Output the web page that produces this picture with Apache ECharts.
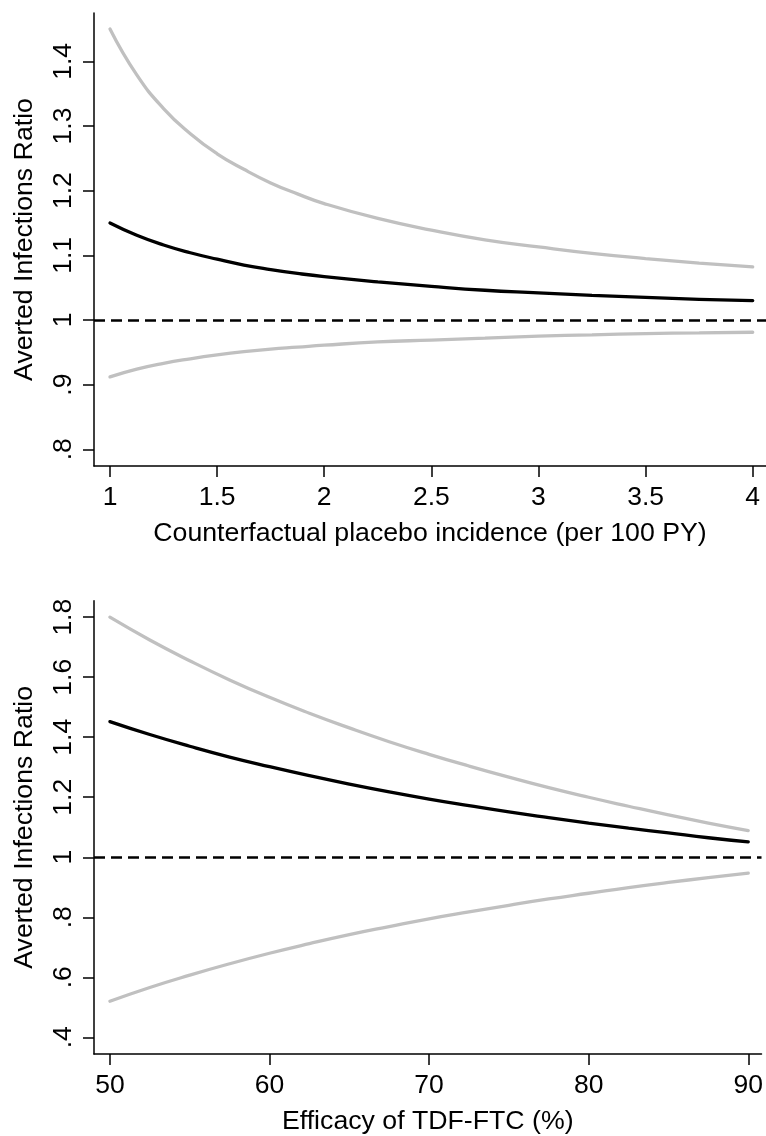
<!DOCTYPE html>
<html>
<head>
<meta charset="utf-8">
<script src="https://cdn.jsdelivr.net/npm/echarts@6/dist/echarts.min.js"></script>
<style>
  html, body { margin: 0; padding: 0; background: #fff; }
  #chart { width: 766px; height: 1136px; }
</style>
</head>
<body>
<div id="chart"></div>
<script>
// 上图：安慰剂发病率 (per 100 PY)
var incidence = [1, 1.125, 1.25, 1.375, 1.5, 1.625, 1.75, 1.875, 2, 2.25, 2.5, 2.75, 3, 3.25, 3.5, 3.75, 4];
var incPoint = [1.150, 1.131, 1.116, 1.104, 1.094, 1.085, 1.078, 1.072, 1.067, 1.059, 1.052, 1.046, 1.042, 1.038, 1.035, 1.032, 1.030];
var incUpper = [1.450, 1.379, 1.327, 1.288, 1.257, 1.233, 1.212, 1.195, 1.180, 1.157, 1.139, 1.124, 1.113, 1.103, 1.095, 1.088, 1.082];
var incLower = [0.912, 0.924, 0.933, 0.940, 0.946, 0.951, 0.955, 0.958, 0.961, 0.966, 0.969, 0.972, 0.975, 0.977, 0.979, 0.980, 0.981];
var incTicks = [1, 1.5, 2, 2.5, 3, 3.5, 4];
var incYTicks = [0.8, 0.9, 1, 1.1, 1.2, 1.3, 1.4];

// 下图：TDF-FTC 效力 (%)
var efficacy = [50, 52.5, 55, 57.5, 60, 62.5, 65, 67.5, 70, 72.5, 75, 77.5, 80, 82.5, 85, 87.5, 90];
var effPoint = [1.452, 1.409, 1.370, 1.334, 1.302, 1.272, 1.244, 1.218, 1.194, 1.172, 1.151, 1.132, 1.114, 1.097, 1.081, 1.065, 1.051];
var effUpper = [1.800, 1.724, 1.655, 1.591, 1.533, 1.480, 1.431, 1.385, 1.343, 1.304, 1.267, 1.232, 1.200, 1.170, 1.141, 1.114, 1.089];
var effLower = [0.520, 0.566, 0.607, 0.645, 0.680, 0.712, 0.742, 0.769, 0.795, 0.818, 0.840, 0.861, 0.880, 0.899, 0.916, 0.932, 0.947];
var effTicks = [50, 60, 70, 80, 90];
var effYTicks = [0.4, 0.6, 0.8, 1, 1.2, 1.4, 1.6, 1.8];

var FONT = "'Liberation Sans', Arial, Helvetica, sans-serif";
var GRAY = '#c0c0c0';

function pairs(xs, ys) {
	var out = [];
	for (var i = 0; i < xs.length; i++) {
		out.push([xs[i], ys[i]]);
	}
	return out;
}

// 去掉前导0，比如 0.8 -> .8
function stataNum(v) {
	var s = String(Math.round(v * 1000) / 1000);
	return s.replace(/^0\./, '.');
}

function xAxisOf(idx, min, max, ticks, name) {
	return {
		type: 'value', gridIndex: idx, min: min, max: max,
		name: name, nameLocation: 'middle', nameGap: 54,
		nameTextStyle: { color: '#000', fontSize: 26.7, fontFamily: FONT },
		axisLine: { onZero: false, lineStyle: { color: '#000', width: 1.5 } },
		axisTick: { customValues: ticks, length: 11, lineStyle: { color: '#000', width: 1.5 } },
		axisLabel: { customValues: ticks, formatter: stataNum, margin: 18, color: '#000', fontSize: 26.5, fontFamily: FONT },
		splitLine: { show: false }
	};
}

function yAxisOf(idx, min, max, ticks) {
	return {
		type: 'value', gridIndex: idx, min: min, max: max,
		name: 'Averted Infections Ratio', nameLocation: 'middle', nameRotate: 90, nameGap: 56,
		nameTextStyle: { color: '#000', fontSize: 26.7, fontFamily: FONT },
		axisLine: { show: true, onZero: false, lineStyle: { color: '#000', width: 1.5 } },
		axisTick: { show: true, customValues: ticks, length: 11, lineStyle: { color: '#000', width: 1.5 } },
		axisLabel: { customValues: ticks, formatter: stataNum, rotate: 90, margin: 17, color: '#000', fontSize: 26.5, fontFamily: FONT },
		splitLine: { show: false }
	};
}

function curve(idx, xs, ys, color) {
	return {
		type: 'line', xAxisIndex: idx, yAxisIndex: idx,
		data: pairs(xs, ys), smooth: 0.5, symbol: 'none', silent: true,
		lineStyle: { color: color, width: 3.3, cap: 'round' }
	};
}

function refLine(idx) {
	return {
		type: 'line', xAxisIndex: idx, yAxisIndex: idx, data: [], silent: true,
		markLine: {
			symbol: 'none', silent: true, label: { show: false },
			lineStyle: { color: '#000', width: 2.5, type: [11, 6] },
			data: [{ yAxis: 1 }]
		}
	};
}

var chart = echarts.init(document.getElementById('chart'), null, { renderer: 'canvas' });
chart.setOption({
	backgroundColor: '#fff',
	animation: false,
	grid: [
		{ left: 94, top: 13, width: 672, height: 453 },
		{ left: 94, top: 600.7, width: 672, height: 453.3 }
	],
	xAxis: [
		xAxisOf(0, 0.9253, 4.062, incTicks, 'Counterfactual placebo incidence (per 100 PY)'),
		xAxisOf(1, 49.004, 90.83, effTicks, 'Efficacy of TDF-FTC (%)')
	],
	yAxis: [
		yAxisOf(0, 0.7742, 1.4747, incYTicks),
		yAxisOf(1, 0.3443, 1.855, effYTicks)
	],
	series: [
		refLine(0),
		curve(0, incidence, incUpper, GRAY),
		curve(0, incidence, incLower, GRAY),
		curve(0, incidence, incPoint, '#000'),
		refLine(1),
		curve(1, efficacy, effUpper, GRAY),
		curve(1, efficacy, effLower, GRAY),
		curve(1, efficacy, effPoint, '#000')
	]
});
</script>
</body>
</html>
